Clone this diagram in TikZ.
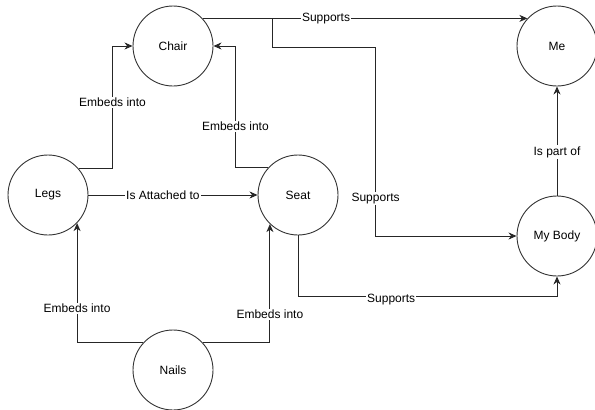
\documentclass[tikz,border=0pt]{standalone}
\usepackage{fontspec}
\setmainfont{Liberation Sans}
\usetikzlibrary{arrows.meta, positioning}

\begin{document}
\begin{tikzpicture}[
    x=1pt, y=-1pt,
    thing/.style={circle, draw=black!80, line width=0.9pt, minimum size=80pt, inner sep=0pt, font=\fontsize{12}{14}\selectfont},
    link/.style={draw=black!85, line width=0.9pt, -{Stealth[length=8pt, width=7pt, inset=2.5pt]}},
    lbl/.style={fill=white, inner sep=1pt, font=\fontsize{12}{14}\selectfont}
]
    \useasboundingbox (0,0) rectangle (595,410);

    % objects
    \node[thing] (chair) at (173,46) {Chair};
    \node[thing] (me)    at (557,46) {Me};
    \node[thing] (legs)  at (48,195) {Legs};
    \node[thing] (seat)  at (298,195) {Seat};
    \node[thing] (body)  at (557,236) {My Body};
    \node[thing] (nails) at (173,370) {Nails};

    % relations
    \draw[link] (legs.41) -- ++(34,0) |- node[lbl, pos=0.27] {Embeds into} (chair.west);
    \draw[link] (seat.137) -- ++(-33,0) |- node[lbl, pos=0.17] {Embeds into} (chair.east);
    \draw[link] (legs) -- node[lbl, pos=0.44] {Is Attached to} (seat);
    \draw[link] (nails.138) -| node[lbl, pos=0.645] {Embeds into} (legs.-44);
    \draw[link] (nails.42) -| node[lbl, pos=0.62] {Embeds into} (seat.-134);
    \draw[link] (chair.43) -- node[lbl, pos=0.38] {Supports} (me.137);
    \draw[link] (chair.43) -- ++(70,0) -- ++(0,29) -- ++(103,0) |- node[lbl, pos=0.4] {Supports} (body.west);
    \draw[link] (seat.south) -- ++(0,61) -| node[lbl, pos=0.18, yshift=-3pt] {Supports} (body.south);
    \draw[link] (body) -- node[lbl, pos=0.4] {Is part of} (me);
\end{tikzpicture}
\end{document}
